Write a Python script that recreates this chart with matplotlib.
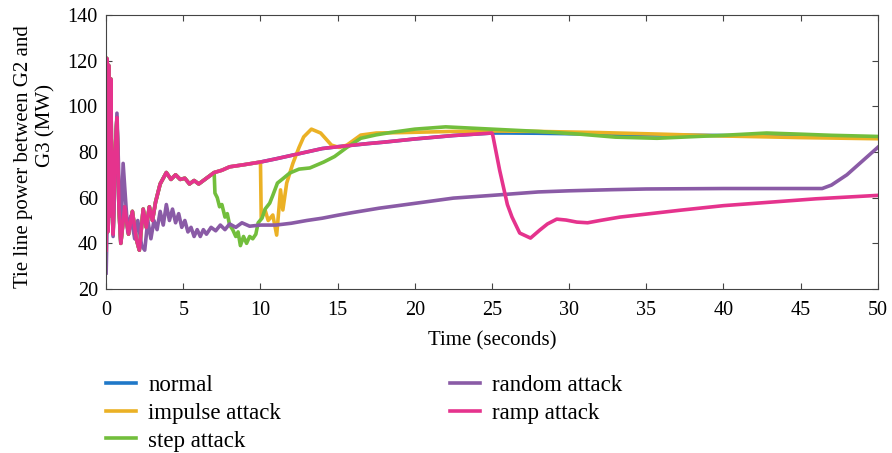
import numpy as np
import matplotlib.pyplot as plt

plt.rcParams['font.family'] = ['Liberation Serif', 'DejaVu Serif']
plt.rcParams['font.size'] = 14.5

# normal response (ramp attack follows it until 25 s)
base_t = [0, 0.04, 0.1, 0.16, 0.22, 0.3, 0.38, 0.45, 0.58, 0.7, 0.83, 0.95, 1.2, 1.45, 1.7,
          1.95, 2.15, 2.4, 2.6, 2.8, 3.0, 3.2, 3.5, 3.9, 4.2, 4.5, 4.8, 5.1, 5.4, 5.7, 6.0,
          6.3, 6.6, 7.0, 7.5, 8, 9, 10, 11, 12, 13, 14, 15, 16, 17, 18, 20, 22.5, 25]
base_v = [37, 121, 45, 118, 52, 112, 58, 44, 80, 95, 55, 40, 56, 44, 54,
          42, 37, 55, 47, 56, 50, 58, 66, 71, 68, 70, 68, 68.5, 66, 67.5, 66,
          67.5, 69, 71, 72, 73.5, 74.5, 75.6, 77, 78.5, 80, 81.5, 82.3, 83, 83.7, 84.3, 85.7,
          87.2, 88.3]

normal_tail_t = [26, 28, 30, 32, 35, 40, 45, 50]
normal_tail_v = [88.3, 88.2, 88, 87.8, 87.5, 87.2, 86.8, 86.5]

ramp_tail_t = [25.05, 25.5, 26, 26.3, 26.8, 27.5, 28.1, 28.6, 29.2, 29.8, 30.5, 31.2, 32,
               33.3, 35, 37.2, 40, 43, 46, 50]
ramp_tail_v = [87.5, 72, 57, 51.5, 44.5, 42.3, 45.8, 48.5, 50.6, 50.2, 49.3, 49, 50,
               51.5, 52.8, 54.5, 56.5, 58, 59.5, 61]

impulse_tail_t = [10.05, 10.3, 10.5, 10.8, 11.05, 11.3, 11.45, 11.7, 12.1, 12.5, 12.8, 13.3,
                  13.9, 14.6, 15.1, 15.6, 16.5, 17.5, 19.2, 22.5, 25, 28, 32, 36, 40, 45, 50]
impulse_tail_v = [51, 54.6, 50, 52.4, 43.6, 63.4, 54.6, 66.4, 75, 82, 86.6, 90,
                  88.3, 83, 82, 83, 87.4, 88.3, 88.5, 89, 89.2, 89, 88.5, 87.8, 87, 86.3, 85.8]

step_tail_t = [7.05, 7.2, 7.35, 7.5, 7.7, 7.85, 8.0, 8.2, 8.4, 8.55, 8.7, 8.9, 9.1, 9.3, 9.5,
               9.7, 9.85, 10.1, 10.3, 10.6, 10.8, 11.1, 11.4, 11.9, 12.5, 13.2, 14.1, 14.8,
               15.6, 16.5, 17.5, 18.4, 20, 22, 25, 28, 30.7, 33, 35.7, 38, 40, 42.8, 45,
               47, 50]
step_tail_v = [62, 60, 56, 57, 51.5, 53, 48, 46, 43, 45, 39, 43, 40, 43, 42,
               44, 49, 51, 55, 57.6, 61, 66.4, 68, 70.8, 72.5, 73, 75.6, 78,
               82, 86, 87.5, 88.5, 90, 91, 90, 89, 87.8, 86.5, 86, 86.7, 87.3, 88.3, 87.8,
               87.3, 86.8]

random_t = [0, 0.1, 0.25, 0.45, 0.7, 0.95, 1.1, 1.4, 1.6, 1.85, 2.05, 2.3, 2.5, 2.7, 2.9,
            3.1, 3.3, 3.5, 3.7, 3.9, 4.1, 4.3, 4.5, 4.7, 4.9, 5.1, 5.3, 5.5, 5.7, 5.9,
            6.1, 6.3, 6.5, 6.8, 7.1, 7.4, 7.7, 8.0, 8.4, 8.8, 9.3, 10, 11, 12, 13, 14,
            15, 16, 17.7, 20, 22.5, 25, 28, 30, 32.8, 35, 40, 46.4, 47, 48, 49, 50]
random_v = [27, 60, 85, 43, 97, 40.6, 75, 45, 52, 42, 50, 39, 37, 50, 42,
            50, 46, 54, 48, 57, 50, 55, 49, 53, 47, 50, 45, 47, 43, 46,
            43, 46, 44, 47, 45.5, 48, 46, 48.5, 47, 49, 47.5, 48, 48, 48.8, 50, 51,
            52.3, 53.5, 55.4, 57.5, 59.8, 61, 62.5, 63, 63.5, 63.8, 64, 64, 65.5, 70, 76, 82]

labels = ['normal', 'impulse attack', 'step attack', 'random attack', 'ramp attack']
colors = ['#1f78c8', '#EBB125', '#72BE3C', '#8A5BA6', '#E5338D']

base_t = np.array(base_t)
base_v = np.array(base_v)
normal_t = np.concatenate([base_t, normal_tail_t])
normal_v = np.concatenate([base_v, normal_tail_v])
imp_t = np.concatenate([base_t[base_t <= 10], impulse_tail_t])
imp_v = np.concatenate([base_v[base_t <= 10], impulse_tail_v])
step_t = np.concatenate([base_t[base_t <= 7], step_tail_t])
step_v = np.concatenate([base_v[base_t <= 7], step_tail_v])
ramp_t = np.concatenate([base_t, ramp_tail_t])
ramp_v = np.concatenate([base_v, ramp_tail_v])

series = [(normal_t, normal_v), (imp_t, imp_v), (step_t, step_v),
          (random_t, random_v), (ramp_t, ramp_v)]

fig = plt.figure(figsize=(8.92, 4.53), dpi=100)
ax = fig.add_axes([0.119, 0.362, 0.865, 0.605])

lines = []
for (t, v), lab, c in zip(series, labels, colors):
    ln, = ax.plot(t, v, color=c, lw=2.6, label=lab)
    lines.append(ln)

ax.set_xlim(0, 50)
ax.set_ylim(20, 140)
ax.set_xticks(np.arange(0, 51, 5))
ax.set_yticks(np.arange(20, 141, 20))
ax.tick_params(direction='in', top=True, right=True, length=4, color='#444444')
ax.tick_params(axis='x', pad=8.5)
ax.tick_params(axis='y', pad=6)
for s in ax.spines.values():
    s.set_color('#444444')
    s.set_linewidth(0.8)
ax.set_xlabel('Time (seconds)', fontsize=15, labelpad=8)

# y label, two lines as in the original
fig.text(0.026, 1 - 157 / 453, 'Tie line power between G2 and', rotation=90,
         ha='center', va='center', fontsize=15)
fig.text(0.051, 1 - 125 / 453, 'G3 (MW)', rotation=90,
         ha='center', va='center', fontsize=15)

leg_kw = dict(loc='upper left', frameon=False, fontsize=16.5, handlelength=1.3,
              handletextpad=0.55, labelspacing=0.3, borderpad=0, borderaxespad=0)
leg1 = fig.legend(lines[:3], labels[:3], bbox_to_anchor=(0.1188, 0.173), **leg_kw)
leg2 = fig.legend(lines[3:], labels[3:], bbox_to_anchor=(0.5045, 0.173), **leg_kw)

fig.savefig('out.png', dpi=100)
